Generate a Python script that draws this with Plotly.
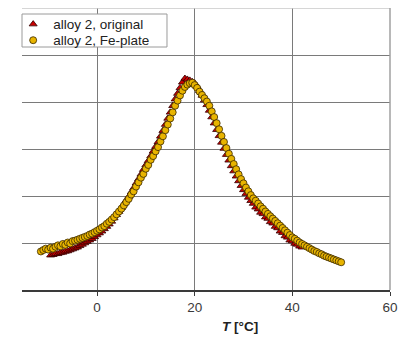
import plotly.graph_objects as go

# alloy 2, original (red triangles)
orig_T = [-9.5, -9.0, -8.5, -8.0, -7.5, -7.0, -6.5, -6.0, -5.5, -5.0, -4.5, -4.0, -3.5, -3.0, -2.5, -2.0,
          -1.5, -1.0, -0.5, 0.0, 0.5, 1.0, 1.5, 2.0, 2.5, 3.0, 3.5, 4.0, 4.5, 5.0, 5.5, 6.0, 6.5, 7.0,
          7.5, 8.0, 8.5, 9.0, 9.5, 10.0, 10.5, 11.0, 11.5, 12.0, 12.5, 13.0, 13.5, 14.0, 14.5, 15.0,
          15.5, 16.0, 16.5, 17.0, 17.5, 18.0, 18.5, 19.0, 19.5, 20.0, 20.5, 21.0, 21.5, 22.0, 22.5,
          23.0, 23.5, 24.0, 24.5, 25.0, 25.5, 26.0, 26.5, 27.0, 27.5, 28.0, 28.5, 29.0, 29.5, 30.0,
          30.5, 31.0, 31.5, 32.0, 32.5, 33.0, 33.5, 34.0, 34.5, 35.0, 35.5, 36.0, 36.5, 37.0, 37.5,
          38.0, 38.5, 39.0, 39.5, 40.0, 40.5, 41.0, 41.5, 42.0]
orig_v = [0.74, 0.75, 0.77, 0.77, 0.79, 0.80, 0.82, 0.83, 0.85, 0.87, 0.89, 0.91, 0.94, 0.97, 1.00, 1.03,
          1.06, 1.09, 1.13, 1.17, 1.21, 1.25, 1.30, 1.35, 1.40, 1.46, 1.53, 1.60, 1.67, 1.75, 1.83, 1.91,
          1.99, 2.08, 2.17, 2.27, 2.36, 2.46, 2.56, 2.66, 2.75, 2.85, 2.95, 3.05, 3.15, 3.27, 3.39, 3.52,
          3.65, 3.78, 3.92, 4.06, 4.18, 4.30, 4.42, 4.50, 4.48, 4.46, 4.43, 4.40, 4.33, 4.24, 4.14, 4.04,
          3.94, 3.82, 3.68, 3.55, 3.41, 3.28, 3.14, 3.01, 2.88, 2.76, 2.64, 2.53, 2.42, 2.32, 2.22, 2.13,
          2.05, 1.97, 1.90, 1.84, 1.76, 1.72, 1.65, 1.62, 1.55, 1.52, 1.45, 1.42, 1.35, 1.32, 1.25, 1.22,
          1.15, 1.12, 1.06, 1.04, 0.99, 0.97, 0.93, 0.91]

# alloy 2, Fe-plate (yellow circles)
fe_T = [-11.5, -11.0, -10.5, -10.0, -9.5, -9.0, -8.5, -8.0, -7.5, -7.0, -6.5, -6.0, -5.5, -5.0, -4.5,
        -4.0, -3.5, -3.0, -2.5, -2.0, -1.5, -1.0, -0.5, 0.0, 0.5, 1.0, 1.5, 2.0, 2.5, 3.0, 3.5, 4.0,
        4.5, 5.0, 5.5, 6.0, 6.5, 7.0, 7.5, 8.0, 8.5, 9.0, 9.5, 10.0, 10.5, 11.0, 11.5, 12.0, 12.5,
        13.0, 13.5, 14.0, 14.5, 15.0, 15.5, 16.0, 16.5, 17.0, 17.5, 18.0, 18.5, 19.0, 19.5, 20.0,
        20.5, 21.0, 21.5, 22.0, 22.5, 23.0, 23.5, 24.0, 24.5, 25.0, 25.5, 26.0, 26.5, 27.0, 27.5,
        28.0, 28.5, 29.0, 29.5, 30.0, 30.5, 31.0, 31.5, 32.0, 32.5, 33.0, 33.5, 34.0, 34.5, 35.0,
        35.5, 36.0, 36.5, 37.0, 37.5, 38.0, 38.5, 39.0, 39.5, 40.0, 40.5, 41.0, 41.5, 42.0, 42.5,
        43.0, 43.5, 44.0, 44.5, 45.0, 45.5, 46.0, 46.5, 47.0, 47.5, 48.0, 48.5, 49.0, 49.5, 50.0]
fe_v = [0.82, 0.85, 0.88, 0.86, 0.90, 0.88, 0.92, 0.95, 0.93, 0.98, 0.96, 1.01, 0.99, 1.04, 1.05,
        1.07, 1.09, 1.11, 1.13, 1.15, 1.18, 1.20, 1.23, 1.26, 1.29, 1.33, 1.36, 1.41, 1.45, 1.50,
        1.55, 1.61, 1.67, 1.73, 1.80, 1.87, 1.94, 2.03, 2.10, 2.20, 2.29, 2.39, 2.47, 2.58, 2.66,
        2.77, 2.85, 2.95, 3.04, 3.16, 3.27, 3.40, 3.52, 3.65, 3.78, 3.92, 4.03, 4.14, 4.24, 4.32,
        4.37, 4.40, 4.41, 4.36, 4.30, 4.22, 4.15, 4.08, 4.01, 3.92, 3.80, 3.68, 3.55, 3.42, 3.28,
        3.15, 3.02, 2.90, 2.79, 2.68, 2.57, 2.46, 2.36, 2.27, 2.18, 2.10, 2.02, 1.95, 1.90, 1.84,
        1.78, 1.73, 1.67, 1.62, 1.57, 1.52, 1.47, 1.42, 1.37, 1.32, 1.27, 1.22, 1.17, 1.12, 1.09,
        1.05, 1.01, 0.98, 0.95, 0.92, 0.89, 0.86, 0.83, 0.81, 0.78, 0.76, 0.73, 0.71, 0.69, 0.67,
        0.65, 0.63, 0.61, 0.59]

x_ticks = [0, 20, 40, 60]
y_ticks = [0, 1, 2, 3, 4, 5, 6]

fig = go.Figure()
fig.add_trace(go.Scatter(
    x=orig_T, y=orig_v, mode="markers", name="alloy 2, original", legend="legend",
    marker=dict(symbol="triangle-up", size=7, color="#c80000",
                line=dict(color="#300000", width=0.8)),
))
fig.add_trace(go.Scatter(
    x=fe_T, y=fe_v, mode="markers", name="alloy 2, Fe-plate", legend="legend2",
    marker=dict(symbol="circle", size=7, color="#e8b400",
                line=dict(color="#3a2800", width=0.8)),
))

leg_common = dict(x=-0.024, xanchor="left", yanchor="top",
                  bgcolor="rgba(0,0,0,0)", borderwidth=0,
                  font=dict(size=13.5, color="#222222"), itemsizing="trace")

# page body has an 8px margin; figure is sized so the plot lands where the reference has it
fig.update_layout(
    width=399, height=331,
    margin=dict(l=14, r=17, t=0, b=49),
    paper_bgcolor="white", plot_bgcolor="white",
    font=dict(family="Liberation Sans, Arial, sans-serif", size=12, color="#333333"),
    showlegend=True,
    legend=dict(y=0.997, **leg_common),
    legend2=dict(y=0.940, **leg_common),
    xaxis=dict(range=[-15.36, 60], tickvals=x_ticks, showgrid=True,
               gridcolor="#7a7a7a", gridwidth=1, zeroline=False,
               showline=True, linecolor="#3a3a3a", linewidth=1.5,
               ticks="outside", ticklen=4, tickcolor="#3a3a3a",
               tickfont=dict(size=13.5, color="#3a3a3a")),
    yaxis=dict(range=[0, 6], tickvals=y_ticks, showgrid=True,
               gridcolor="#7a7a7a", gridwidth=1, zeroline=False,
               showticklabels=False, showline=False, ticks=""),
    annotations=[dict(text="<b><i>T</i> [°C]</b>", x=0.592, y=-0.131,
                      xref="paper", yref="paper", showarrow=False,
                      font=dict(size=13.5, color="#222222"),
                      xanchor="center", yanchor="middle")],
    shapes=[dict(type="line", xref="paper", yref="paper", x0=0, x1=1, y0=1, y1=1,
                 line=dict(color="#c8c8c8", width=1.5)),
            dict(type="line", xref="paper", yref="paper", x0=1, x1=1, y0=0, y1=1,
                 line=dict(color="#a0a0a0", width=1.5)),
            dict(type="rect", xref="paper", yref="paper", x0=0, x1=0.394, y0=0.8617, y1=0.9787,
                 fillcolor="white", line=dict(color="#9a9a9a", width=1), layer="above")],
)

fig.write_html("out.html")
